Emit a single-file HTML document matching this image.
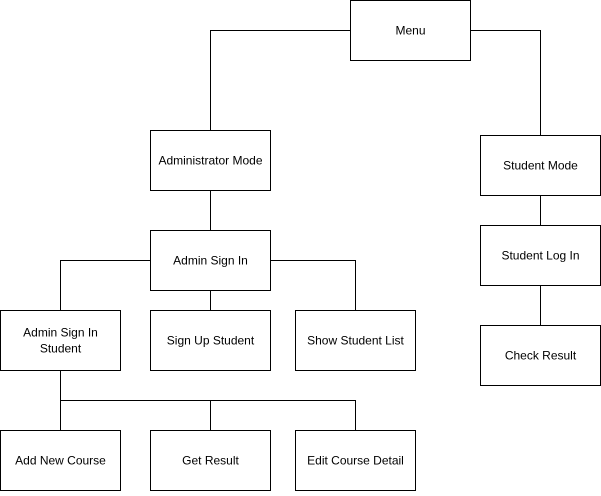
<!DOCTYPE html>
<html><head><style>
body{margin:0;background:#fff;width:601px;height:491px;overflow:hidden}
svg text{font-family:"Liberation Sans",Arial,sans-serif;font-size:12px;fill:#000}
</style></head><body>
<svg width="601" height="491" viewBox="0 0 601 491" xmlns="http://www.w3.org/2000/svg">
<g stroke="#000" stroke-width="1" fill="none" shape-rendering="crispEdges">
<path d="M350.5 30.5H210.5V130"/>
<path d="M470.5 30.5H540.5V135"/>
<path d="M210.5 190V230"/>
<path d="M150 260.5H60.5V310"/>
<path d="M270 260.5H355.5V310"/>
<path d="M210.5 290V310"/>
<path d="M540.5 195V225"/>
<path d="M540.5 285V325"/>
<path d="M60.5 370V430"/>
<path d="M60.5 400.5H355.5V430"/>
<path d="M210.5 400.5V430"/>
</g>
<g stroke="#000" stroke-width="1" fill="#fff" shape-rendering="crispEdges">
<rect x="350.5" y="0.5" width="120" height="60"/>
<rect x="150.5" y="130.5" width="120" height="60"/>
<rect x="480.5" y="135.5" width="120" height="60"/>
<rect x="150.5" y="230.5" width="120" height="60"/>
<rect x="480.5" y="225.5" width="120" height="60"/>
<rect x="0.5" y="310.5" width="120" height="60"/>
<rect x="150.5" y="310.5" width="120" height="60"/>
<rect x="295.5" y="310.5" width="120" height="60"/>
<rect x="480.5" y="325.5" width="120" height="60"/>
<rect x="0.5" y="430.5" width="120" height="60"/>
<rect x="150.5" y="430.5" width="120" height="60"/>
<rect x="295.5" y="430.5" width="120" height="60"/>
</g>
<g text-anchor="middle">
<text x="410.5" y="34.5">Menu</text>
<text x="210.5" y="164.5">Administrator Mode</text>
<text x="540.5" y="169.5">Student Mode</text>
<text x="210.5" y="264.5">Admin Sign In</text>
<text x="540.5" y="259.5">Student Log In</text>
<text x="60.5" y="336.5">Admin Sign In</text>
<text x="60.5" y="352.5">Student</text>
<text x="210.5" y="344.5">Sign Up Student</text>
<text x="355.5" y="344.5">Show Student List</text>
<text x="540.5" y="359.5">Check Result</text>
<text x="60.5" y="464.5">Add New Course</text>
<text x="210.5" y="464.5">Get Result</text>
<text x="355.5" y="464.5">Edit Course Detail</text>
</g>
</svg>
</body></html>
